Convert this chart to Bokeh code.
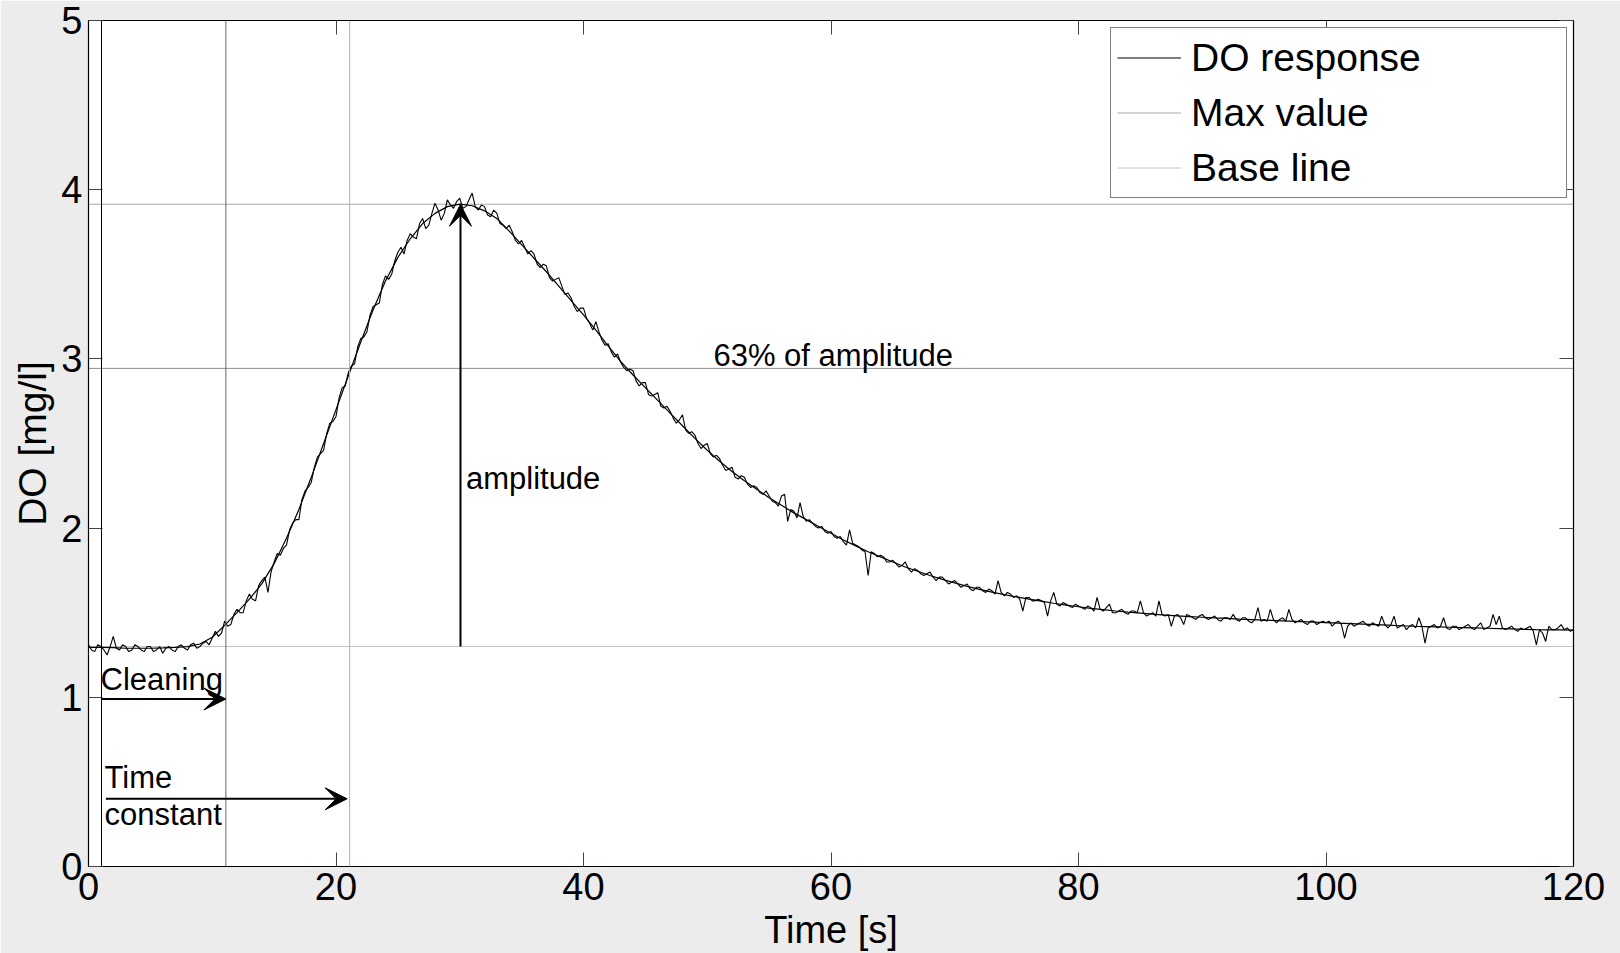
import numpy as np
from bokeh.plotting import figure
from bokeh.models import (Range1d, LinearAxis, Span, Label, Arrow, VeeHead,
                          Legend, LegendItem, FixedTicker)
from bokeh.embed import file_html
from bokeh.resources import INLINE

# ---------------- data ----------------
x_ticks = [0, 20, 40, 60, 80, 100, 120]
y_ticks = [0, 1, 2, 3, 4, 5]
x_lim = [0, 120]
y_lim = [0, 5]

# smooth fitted DO response, one value per second (0..120 s)
t_fit = list(range(0, 121))
do_fit = [
    1.295, 1.295, 1.293, 1.29, 1.29, 1.29, 1.292, 1.295, 1.30, 1.315,
    1.355, 1.425, 1.50, 1.58, 1.67, 1.79, 1.94, 2.11, 2.30, 2.50,
    2.70, 2.90, 3.10, 3.29, 3.46, 3.60, 3.71, 3.80, 3.86, 3.90,
    3.915, 3.905, 3.875, 3.83, 3.755, 3.675, 3.595, 3.515, 3.43, 3.345,
    3.26, 3.17, 3.075, 2.985, 2.905, 2.83, 2.755, 2.68, 2.605, 2.53,
    2.46, 2.395, 2.335, 2.28, 2.23, 2.18, 2.135, 2.09, 2.05, 2.01,
    1.97, 1.93, 1.895, 1.86, 1.83, 1.80, 1.77, 1.745, 1.72, 1.697,
    1.676, 1.656, 1.638, 1.622, 1.607, 1.593, 1.58, 1.568, 1.556, 1.545,
    1.535, 1.526, 1.518, 1.51, 1.503, 1.497, 1.491, 1.486, 1.481, 1.477,
    1.473, 1.469, 1.466, 1.462, 1.459, 1.456, 1.453, 1.45, 1.447, 1.444,
    1.441, 1.438, 1.435, 1.432, 1.429, 1.426, 1.423, 1.42, 1.418, 1.416,
    1.414, 1.412, 1.41, 1.408, 1.406, 1.404, 1.402, 1.40, 1.399, 1.398,
    1.397,
]

# measured (noisy) DO response, sampled every 0.25 s (one row = 5 s)
t_raw = np.arange(0, 120.25, 0.25)
do_raw = [
    1.31, 1.28, 1.27, 1.31, 1.30, 1.28, 1.25, 1.30, 1.36, 1.29, 1.28, 1.31, 1.30, 1.27, 1.28, 1.31, 1.30, 1.28, 1.27, 1.30,
    1.30, 1.27, 1.28, 1.30, 1.26, 1.29, 1.30, 1.28, 1.27, 1.30, 1.31, 1.29, 1.28, 1.31, 1.32, 1.29, 1.30, 1.32, 1.33, 1.31,
    1.35, 1.39, 1.36, 1.38, 1.45, 1.42, 1.43, 1.49, 1.52, 1.50, 1.50, 1.57, 1.61, 1.58, 1.57, 1.66, 1.69, 1.71, 1.62, 1.74,
    1.80, 1.85, 1.84, 1.88, 1.90, 1.99, 2.03, 2.05, 2.05, 2.17, 2.22, 2.24, 2.27, 2.36, 2.42, 2.44, 2.46, 2.56, 2.62, 2.63,
    2.66, 2.77, 2.83, 2.84, 2.92, 2.96, 2.97, 3.07, 3.12, 3.13, 3.16, 3.26, 3.31, 3.32, 3.33, 3.44, 3.49, 3.47, 3.50, 3.58,
    3.63, 3.66, 3.62, 3.70, 3.74, 3.72, 3.71, 3.80, 3.83, 3.77, 3.79, 3.86, 3.92, 3.88, 3.82, 3.86, 3.94, 3.91, 3.89, 3.93,
    3.95, 3.89, 3.90, 3.94, 3.98, 3.90, 3.88, 3.91, 3.90, 3.85, 3.84, 3.88, 3.86, 3.80, 3.79, 3.77, 3.79, 3.75, 3.70, 3.68,
    3.70, 3.66, 3.62, 3.64, 3.62, 3.56, 3.54, 3.56, 3.55, 3.48, 3.46, 3.47, 3.48, 3.43, 3.38, 3.39, 3.36, 3.31, 3.28, 3.30,
    3.30, 3.24, 3.21, 3.17, 3.22, 3.16, 3.11, 3.08, 3.09, 3.04, 3.01, 3.03, 2.98, 2.95, 2.93, 2.94, 2.93, 2.87, 2.84, 2.86,
    2.86, 2.79, 2.78, 2.79, 2.80, 2.72, 2.71, 2.72, 2.69, 2.65, 2.62, 2.64, 2.67, 2.58, 2.56, 2.57, 2.55, 2.50, 2.47, 2.49,
    2.50, 2.44, 2.42, 2.43, 2.41, 2.37, 2.34, 2.35, 2.36, 2.30, 2.29, 2.31, 2.30, 2.26, 2.24, 2.25, 2.24, 2.21, 2.20, 2.22,
    2.19, 2.16, 2.15, 2.13, 2.19, 2.20, 2.04, 2.11, 2.10, 2.06, 2.15, 2.07, 2.04, 2.05, 2.03, 2.01, 2.00, 2.01, 1.98, 1.97,
    1.98, 1.95, 1.94, 1.95, 1.92, 1.90, 1.99, 1.91, 1.90, 1.89, 1.87, 1.86, 1.72, 1.86, 1.85, 1.83, 1.84, 1.83, 1.80, 1.80,
    1.81, 1.79, 1.77, 1.78, 1.80, 1.76, 1.74, 1.76, 1.75, 1.73, 1.72, 1.73, 1.74, 1.71, 1.69, 1.71, 1.71, 1.69, 1.67, 1.68,
    1.69, 1.67, 1.65, 1.66, 1.67, 1.64, 1.63, 1.65, 1.65, 1.63, 1.62, 1.64, 1.63, 1.61, 1.69, 1.62, 1.60, 1.62, 1.61, 1.59,
    1.60, 1.58, 1.51, 1.59, 1.59, 1.57, 1.57, 1.58, 1.57, 1.56, 1.48, 1.57, 1.62, 1.55, 1.54, 1.56, 1.55, 1.54, 1.53, 1.55,
    1.54, 1.53, 1.52, 1.54, 1.53, 1.51, 1.59, 1.52, 1.51, 1.53, 1.55, 1.50, 1.50, 1.51, 1.52, 1.50, 1.49, 1.51, 1.51, 1.50,
    1.57, 1.50, 1.48, 1.49, 1.50, 1.48, 1.57, 1.49, 1.48, 1.49, 1.42, 1.48, 1.49, 1.47, 1.43, 1.49, 1.48, 1.47, 1.46, 1.48,
    1.49, 1.47, 1.46, 1.47, 1.48, 1.46, 1.45, 1.47, 1.47, 1.46, 1.49, 1.46, 1.45, 1.47, 1.47, 1.45, 1.44, 1.46, 1.53, 1.45,
    1.46, 1.45, 1.52, 1.46, 1.44, 1.46, 1.47, 1.45, 1.52, 1.46, 1.44, 1.45, 1.46, 1.44, 1.43, 1.45, 1.45, 1.43, 1.44, 1.45,
    1.44, 1.45, 1.42, 1.44, 1.45, 1.43, 1.35, 1.42, 1.44, 1.42, 1.43, 1.44, 1.45, 1.43, 1.42, 1.44, 1.43, 1.42, 1.48, 1.43,
    1.41, 1.43, 1.48, 1.41, 1.42, 1.43, 1.40, 1.42, 1.43, 1.41, 1.47, 1.42, 1.32, 1.41, 1.42, 1.43, 1.41, 1.42, 1.47, 1.41,
    1.40, 1.42, 1.42, 1.40, 1.41, 1.42, 1.43, 1.41, 1.40, 1.42, 1.44, 1.40, 1.41, 1.42, 1.49, 1.43, 1.48, 1.41, 1.40, 1.41,
    1.42, 1.40, 1.39, 1.41, 1.40, 1.41, 1.42, 1.39, 1.31, 1.40, 1.38, 1.33, 1.42, 1.40, 1.40, 1.41, 1.43, 1.40, 1.41, 1.39,
    1.40,
]

# characteristic levels and times
max_value = 3.914
base_value = 1.30
level_63 = 2.944
t_start = 1.05
t_clean = 11.1
t_const = 21.1
t_peak = 30.06

FONT = "Liberation Sans"

p = figure(width=1620, height=953, output_backend="svg", toolbar_location=None,
           x_range=Range1d(*x_lim), y_range=Range1d(*y_lim),
           min_border_left=88, min_border_right=47, min_border_top=20,
           min_border_bottom=86)
p.background_fill_color = "white"
p.border_fill_color = "#ececec"
p.outline_line_color = "black"
p.outline_line_width = 1.2
p.xgrid.visible = False
p.ygrid.visible = False

def style_axis(ax, show_labels):
    ax.axis_line_color = "black"
    ax.major_tick_in = 14
    ax.major_tick_out = 0
    ax.major_tick_line_color = "#444444"
    ax.minor_tick_line_color = None
    if show_labels:
        ax.major_label_text_font = FONT
        ax.major_label_text_font_size = "38px"
        ax.major_label_text_color = "black"
        ax.major_label_standoff = 6
    else:
        ax.major_label_text_font_size = "1px"
        ax.major_label_text_color = None
        ax.major_label_standoff = 0

p.xaxis.ticker = FixedTicker(ticks=x_ticks)
p.yaxis.ticker = FixedTicker(ticks=y_ticks)
style_axis(p.xaxis[0], True)
style_axis(p.yaxis[0], True)

p.xaxis.axis_label = "Time [s]"
p.xaxis.axis_label_text_font = FONT
p.xaxis.axis_label_text_font_size = "38px"
p.xaxis.axis_label_text_font_style = "normal"
p.xaxis.axis_label_text_color = "black"
p.xaxis.axis_label_standoff = 6

p.yaxis.axis_label = "DO [mg/l]"
p.yaxis.axis_label_text_font = FONT
p.yaxis.axis_label_text_font_size = "39px"
p.yaxis.axis_label_text_font_style = "normal"
p.yaxis.axis_label_text_color = "black"
p.yaxis.axis_label_standoff = 4

top_ax = LinearAxis(ticker=FixedTicker(ticks=x_ticks))
right_ax = LinearAxis(ticker=FixedTicker(ticks=y_ticks))
style_axis(top_ax, False)
style_axis(right_ax, False)
p.add_layout(top_ax, "above")
p.add_layout(right_ax, "right")

# reference lines
r_max = p.line(x_lim, [max_value, max_value], line_color="#a8a8a8", line_width=1)
r_base = p.line(x_lim, [base_value, base_value], line_color="#c4c4c4", line_width=1)
p.line(x_lim, [level_63, level_63], line_color="#8c8c8c", line_width=1)
p.add_layout(Span(location=t_start, dimension="height", line_color="black", line_width=1))
p.add_layout(Span(location=t_clean, dimension="height", line_color="#666666", line_width=1))
p.add_layout(Span(location=t_const, dimension="height", line_color="#b0b0b0", line_width=1))

# data
r_raw = p.line(t_raw, do_raw, line_color="black", line_width=1.1)
p.line(t_fit, do_fit, line_color="black", line_width=1.2)

# arrows
def arrow(x0, y0, x1, y1):
    p.add_layout(Arrow(end=VeeHead(size=22, fill_color="black", line_color="black"),
                       x_start=x0, y_start=y0, x_end=x1, y_end=y1,
                       line_color="black", line_width=2))

arrow(t_start, 0.99, t_clean, 0.99)
arrow(1.4, 0.40, t_const - 0.2, 0.40)
arrow(t_peak, base_value, t_peak, max_value)

def txt(x, y, s):
    p.add_layout(Label(x=x, y=y, text=s, text_font=FONT, text_font_size="31px",
                       text_baseline="alphabetic", text_color="black"))

txt(0.97, 1.104, "Cleaning")
txt(1.3, 0.525, "Time")
txt(1.3, 0.307, "constant")
txt(30.5, 2.296, "amplitude")
txt(50.5, 3.022, "63% of amplitude")

legend = Legend(items=[LegendItem(label="DO response", renderers=[r_raw]),
                       LegendItem(label="Max value", renderers=[r_max]),
                       LegendItem(label="Base line", renderers=[r_base])],
                location=(1022, 668))
legend.label_text_font = FONT
legend.label_text_font_size = "39px"
legend.label_text_color = "black"
legend.glyph_width = 64
legend.glyph_height = 47
legend.label_height = 47
legend.label_width = 369
legend.label_standoff = 10
legend.spacing = 8
legend.padding = 6
legend.margin = 0
legend.border_line_color = "black"
legend.border_line_width = 1
legend.background_fill_color = "white"
legend.background_fill_alpha = 1
p.add_layout(legend)

open("out.html", "w").write(file_html(p, INLINE))
